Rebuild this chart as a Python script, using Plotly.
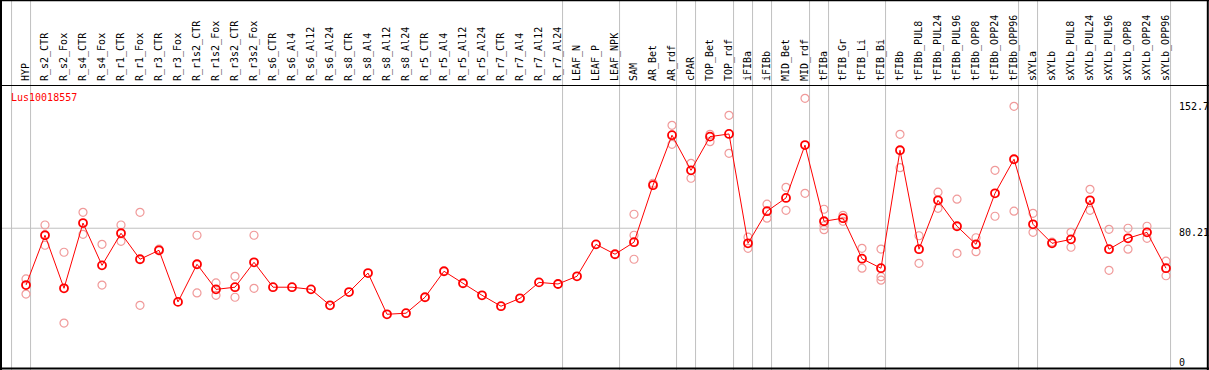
import plotly.graph_objects as go

W, H = 1209, 370

categories = [
    "HYP", "R_s2_CTR", "R_s2_Fox", "R_s4_CTR", "R_s4_Fox", "R_r1_CTR", "R_r1_Fox",
    "R_r3_CTR", "R_r3_Fox", "R_r1s2_CTR", "R_r1s2_Fox", "R_r3s2_CTR", "R_r3s2_Fox",
    "R_s6_CTR", "R_s6_Al4", "R_s6_Al12", "R_s6_Al24", "R_s8_CTR", "R_s8_Al4",
    "R_s8_Al12", "R_s8_Al24", "R_r5_CTR", "R_r5_Al4", "R_r5_Al12", "R_r5_Al24",
    "R_r7_CTR", "R_r7_Al4", "R_r7_Al12", "R_r7_Al24", "LEAF_N", "LEAF_P", "LEAF_NPK",
    "SAM", "AR_Bet", "AR_rdf", "cPAR", "TOP_Bet", "TOP_rdf", "iFIBa", "iFIBb",
    "MID_Bet", "MID_rdf", "tFIBa", "tFIB_Gr", "tFIB_Li", "tFIB_Bi", "tFIBb",
    "tFIBb_PUL8", "tFIBb_PUL24", "tFIBb_PUL96", "tFIBb_OPP8", "tFIBb_OPP24",
    "tFIBb_OPP96", "sXYLa", "sXYLb", "sXYLb_PUL8", "sXYLb_PUL24", "sXYLb_PUL96",
    "sXYLb_OPP8", "sXYLb_OPP24", "sXYLb_OPP96",
]

mean_values = [
    48.5, 76.3, 46.7, 83.1, 59.5, 77.4, 62.9, 67.9, 39.1, 60.1, 46.1, 47.3, 61.2,
    47.3, 47.3, 46.1, 37.2, 44.6, 55.2, 32.2, 32.8, 41.7, 56.2, 49.5, 42.8,
    36.7, 41.1, 50.0, 49.1, 53.4, 71.2, 65.7,
    72.4, 104.2, 132.1, 112.5, 131.3, 132.8, 71.8, 89.7, 97.1, 126.6,
    84.1, 85.8, 63.2, 57.9, 123.7, 68.5, 95.8, 81.3, 71.2, 99.7, 118.7,
    82.4, 71.8, 74.0, 95.8, 68.5, 74.6, 77.9, 57.9,
]

rep_a = [
    51.9, 82.0, 66.8, 89.1, 71.2, 82.0, 89.1, 68.5, None, 76.3, 49.7, 53.4, 76.3,
    None, None, None, None, None, None, None, None, None, None, None, None,
    None, None, None, None, None, None, None,
    88.0, 105.3, 137.6, 116.4, 132.6, 143.2, 75.2, 93.6, 103.0, 152.7,
    90.8, 87.4, 69.0, 68.6, 132.6, 76.0, 100.3, 96.4, 74.9, 112.5, 148.2,
    88.5, 72.4, 77.9, 101.9, 79.6, 80.2, 81.3, 61.8,
]
rep_b = [
    43.5, 70.7, 27.3, 76.8, 48.5, 72.9, 37.2, None, None, 44.1, 42.8, 41.7, 46.7,
    None, None, None, None, None, None, None, None, None, None, None, None,
    None, None, None, None, None, None, None,
    76.3, None, 127.0, 108.1, 128.5, 122.0, 69.0, 85.8, 90.2, 99.7,
    81.6, 84.1, 57.9, 53.2, 114.0, 60.6, 91.3, 66.2, 67.1, 86.9, 89.7,
    77.9, None, 69.6, 90.2, 56.7, 68.5, 74.6, 53.7,
]
rep_c = [
    None, None, None, None, None, None, None, None, None, None, None, None, None,
    None, None, None, None, None, None, None, None, None, None, None, None,
    None, None, None, None, None, None, None,
    62.9, None, None, None, None, None, None, None, None, None,
    79.4, None, None, 51.2, None, None, None, None, None, None, None,
    None, None, None, None, None, None, None, None,
]

# separators drawn right after these category indices
group_breaks = [-1, 0, 28, 31, 34, 35, 37, 38, 39, 41, 42, 45, 52, 53, 60]
ref_value = 80.21
axis_labels = ["152.7", "80.21", "0"]
gene = "Lus10018557"

idx = list(range(len(categories)))
FONT = "DejaVu Sans Mono, Liberation Mono, monospace"

fig = go.Figure()

for reps in (rep_a, rep_b, rep_c):
    xs = [i for i, v in zip(idx, reps) if v is not None]
    ys = [v for v in reps if v is not None]
    fig.add_trace(go.Scatter(
        x=xs, y=ys, mode="markers",
        marker=dict(symbol="circle-open", size=8, color="#f09a9a",
                    line=dict(width=1.2, color="#f09a9a")),
        showlegend=False, hoverinfo="skip"))

fig.add_trace(go.Scatter(
    x=idx, y=mean_values, mode="lines+markers",
    line=dict(color="#ff0000", width=1),
    marker=dict(symbol="circle-open", size=8, color="#ff0000",
                line=dict(width=1.8, color="#ff0000")),
    showlegend=False, hoverinfo="skip"))

shapes = []
for b in group_breaks:
    shapes.append(dict(type="line", xref="x", yref="paper", x0=b + 0.24, x1=b + 0.24,
                       y0=0, y1=1, line=dict(color="#c0c0c0", width=1), layer="below"))
shapes.append(dict(type="line", xref="x", yref="y", x0=-1.4, x1=60.24,
                   y0=ref_value, y1=ref_value,
                   line=dict(color="#c0c0c0", width=1), layer="below"))
# frame
shapes += [
    dict(type="line", xref="paper", yref="paper", x0=0, x1=1, y0=1 - 0.5 / H, y1=1 - 0.5 / H,
         line=dict(color="black", width=1.5)),
    dict(type="line", xref="paper", yref="paper", x0=0, x1=1, y0=1 - 85.5 / H, y1=1 - 85.5 / H,
         line=dict(color="black", width=1.2)),
    dict(type="line", xref="paper", yref="paper", x0=0, x1=1, y0=1 - 368.5 / H, y1=1 - 368.5 / H,
         line=dict(color="black", width=2)),
    dict(type="line", xref="paper", yref="paper", x0=1 / W, x1=1 / W, y0=0, y1=1,
         line=dict(color="black", width=2)),
    dict(type="line", xref="paper", yref="paper", x0=1207.8 / W, x1=1207.8 / W, y0=0, y1=1,
         line=dict(color="black", width=2)),
]

annotations = [
    dict(text=gene, xref="paper", yref="paper", x=9 / W, y=1 - 97 / H,
         xanchor="left", yanchor="middle", showarrow=False,
         font=dict(family=FONT, size=10, color="#ff0000")),
]
for lab, py in zip(axis_labels, [107, 232, 362]):
    annotations.append(dict(text=lab, xref="paper", yref="paper", x=1177 / W, y=1 - py / H,
                            xanchor="left", yanchor="middle", showarrow=False,
                            font=dict(family=FONT, size=10, color="black")))

x0 = -26 / 19
x1 = (W - 26) / 19
top_px = 86
y_lo = 2 / 1.7925
y_hi = (372 - top_px) / 1.7925

fig.update_layout(
    width=W, height=H,
    margin=dict(l=0, r=0, t=0, b=0),
    paper_bgcolor="white", plot_bgcolor="white",
    hovermode=False,
    shapes=shapes, annotations=annotations,
    xaxis=dict(range=[x0, x1], tickmode="array", tickvals=idx, ticktext=categories,
               side="top", tickangle=-90, ticks="", showgrid=False, zeroline=False,
               showline=False, tickfont=dict(family=FONT, size=10, color="black"),
               ticklabelstandoff=4),
    yaxis=dict(range=[y_lo, y_hi], domain=[0, 1 - top_px / H], visible=False,
               showgrid=False, zeroline=False),
)

fig.write_html(
    "out.html",
    config={"displayModeBar": False, "staticPlot": True},
    post_script="document.body.style.margin='0';document.body.style.padding='0';"
                "document.body.style.overflow='hidden';",
)
